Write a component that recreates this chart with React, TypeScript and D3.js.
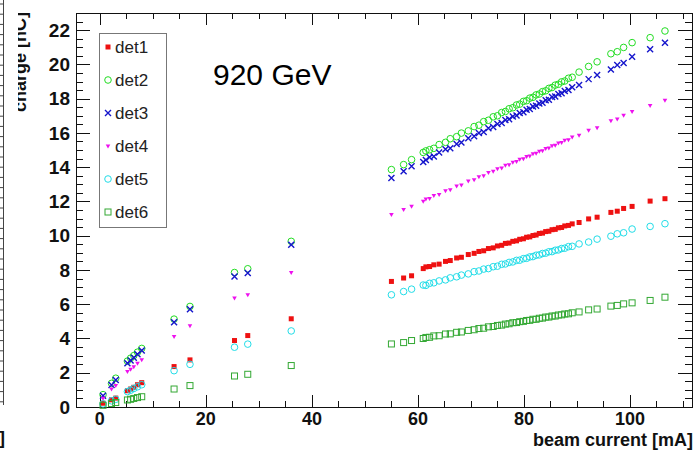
import React, { useRef, useEffect } from "react";
import * as d3 from "d3";

/* beam current [mA] shared by every detector */
const current = [
  0.6, 2.2, 3.0, 5.2, 5.8, 6.4, 7.1, 7.9, 14.0, 17.0, 25.4, 27.9, 36.1,
  55.0, 57.3, 58.8, 61.0, 61.5, 62.2, 63.0, 64.0, 65.2, 66.1, 67.3, 68.2,
  69.5, 70.6, 71.5, 72.4, 73.3, 74.2, 75.0, 75.8, 76.5, 77.2, 77.9, 78.6,
  79.2, 79.9, 80.5, 81.1, 81.7, 82.3, 82.9, 83.5, 84.1, 84.7, 85.3, 85.9,
  86.5, 87.1, 87.7, 88.4, 89.1, 90.4, 92.2, 93.8, 96.4, 97.6, 98.8, 100.4,
  103.8, 106.6,
];

/* charge [nC] per detector */
const det1 = [
  0.22, 0.42, 0.52, 0.95, 1.05, 1.15, 1.3, 1.42, 2.36, 2.75, 3.88, 4.17, 5.15,
  7.33, 7.53, 7.66, 8.08, 8.18, 8.2, 8.3, 8.34, 8.5, 8.55, 8.7, 8.74,
  8.9, 8.97, 9.08, 9.12, 9.25, 9.29, 9.4, 9.44, 9.55, 9.57, 9.67, 9.7,
  9.79, 9.82, 9.91, 9.93, 10.01, 10.04, 10.13, 10.15, 10.24, 10.26, 10.35, 10.37,
  10.46, 10.48, 10.57, 10.6, 10.69, 10.77, 10.98, 11.08, 11.36, 11.43, 11.59, 11.71,
  12.02, 12.16,
];
const det2 = [
  0.72, 1.38, 1.68, 2.68, 2.85, 3.0, 3.2, 3.42, 5.13, 5.87, 7.85, 8.07, 9.67,
  13.86, 14.15, 14.44, 14.86, 14.95, 15.02, 15.1, 15.32, 15.45, 15.66, 15.78, 15.99,
  16.12, 16.37, 16.45, 16.66, 16.74, 16.94, 17.0, 17.19, 17.25, 17.41, 17.47, 17.63,
  17.68, 17.84, 17.88, 18.03, 18.08, 18.22, 18.27, 18.41, 18.46, 18.6, 18.65, 18.79,
  18.84, 18.98, 19.03, 19.19, 19.25, 19.55, 19.88, 20.15, 20.62, 20.74, 20.99, 21.27,
  21.56, 21.95,
];
const det3 = [
  0.65, 1.29, 1.58, 2.55, 2.72, 2.88, 3.08, 3.3, 4.95, 5.71, 7.62, 7.82, 9.47,
  13.37, 13.76, 14.05, 14.3, 14.42, 14.58, 14.62, 14.85, 15.04, 15.1, 15.35, 15.44,
  15.69, 15.8, 15.99, 16.06, 16.27, 16.34, 16.52, 16.58, 16.75, 16.8, 16.96, 17.01,
  17.16, 17.21, 17.35, 17.4, 17.54, 17.58, 17.72, 17.76, 17.9, 17.94, 18.09, 18.12,
  18.27, 18.31, 18.45, 18.5, 18.66, 18.8, 19.14, 19.38, 19.7, 19.96, 20.08, 20.45,
  20.88, 21.27,
];
const det4 = [
  0.5, 1.05, 1.25, 2.07, 2.2, 2.35, 2.55, 2.75, 4.11, 4.74, 6.35, 6.55, 7.85,
  11.23, 11.52, 11.71, 12.0, 12.14, 12.16, 12.34, 12.4, 12.62, 12.68, 12.9, 12.95,
  13.18, 13.26, 13.44, 13.5, 13.68, 13.75, 13.9, 13.95, 14.1, 14.14, 14.28, 14.32,
  14.45, 14.49, 14.62, 14.65, 14.78, 14.81, 14.93, 14.96, 15.09, 15.12, 15.25, 15.28,
  15.41, 15.44, 15.56, 15.6, 15.75, 15.86, 16.15, 16.3, 16.7, 16.8, 17.02, 17.25,
  17.6, 17.9,
];
const det5 = [
  0.18, 0.36, 0.45, 0.9, 0.98, 1.08, 1.18, 1.3, 2.12, 2.49, 3.49, 3.67, 4.44,
  6.55, 6.74, 6.88, 7.12, 7.1, 7.22, 7.25, 7.36, 7.42, 7.54, 7.6, 7.7,
  7.77, 7.9, 7.94, 8.05, 8.08, 8.19, 8.22, 8.33, 8.35, 8.44, 8.47, 8.56,
  8.57, 8.66, 8.68, 8.76, 8.78, 8.86, 8.88, 8.96, 8.98, 9.06, 9.07, 9.15,
  9.17, 9.25, 9.27, 9.36, 9.38, 9.52, 9.63, 9.8, 9.97, 10.11, 10.17, 10.39,
  10.54, 10.7,
];
const det6 = [
  0.1, 0.2, 0.26, 0.41, 0.45, 0.5, 0.55, 0.6, 1.05, 1.25, 1.81, 1.91, 2.42,
  3.68, 3.76, 3.88, 4.0, 4.06, 4.07, 4.15, 4.16, 4.26, 4.27, 4.36, 4.38,
  4.47, 4.51, 4.58, 4.6, 4.68, 4.7, 4.76, 4.78, 4.84, 4.86, 4.92, 4.93,
  4.98, 5.0, 5.05, 5.06, 5.12, 5.12, 5.18, 5.19, 5.25, 5.25, 5.31, 5.31,
  5.37, 5.38, 5.43, 5.44, 5.5, 5.55, 5.67, 5.72, 5.89, 5.93, 6.02, 6.08,
  6.22, 6.41,
];

const detNames = ["det1", "det2", "det3", "det4", "det5", "det6"];
const xTicks = [0, 20, 40, 60, 80, 100];
const yTicks = [0, 2, 4, 6, 8, 10, 12, 14, 16, 18, 20, 22];

type Mark = "fsquare" | "ocircle" | "cross" | "tridown" | "osquare";
const STYLE: { color: string; mark: Mark }[] = [
  { color: "#ee1111", mark: "fsquare" },
  { color: "#22dd22", mark: "ocircle" },
  { color: "#1515cc", mark: "cross" },
  { color: "#ee11ee", mark: "tridown" },
  { color: "#22dde8", mark: "ocircle" },
  { color: "#33a833", mark: "osquare" },
];

function drawMark(g: any, mark: Mark, color: string, cx: number, cy: number) {
  if (mark === "fsquare") {
    g.append("rect").attr("x", cx - 2.5).attr("y", cy - 2.5)
      .attr("width", 5).attr("height", 5).attr("fill", color);
  } else if (mark === "osquare") {
    g.append("rect").attr("x", cx - 3).attr("y", cy - 3)
      .attr("width", 6).attr("height", 6).attr("fill", "none")
      .attr("stroke", color).attr("stroke-width", 1);
  } else if (mark === "ocircle") {
    g.append("circle").attr("cx", cx).attr("cy", cy).attr("r", 3.3)
      .attr("fill", "none").attr("stroke", color).attr("stroke-width", 1);
  } else if (mark === "cross") {
    g.append("path")
      .attr("d", `M${cx - 3},${cy - 3}L${cx + 3},${cy + 3}M${cx - 3},${cy + 3}L${cx + 3},${cy - 3}`)
      .attr("stroke", color).attr("stroke-width", 1.4).attr("fill", "none");
  } else {
    g.append("path")
      .attr("d", `M${cx - 2.3},${cy - 1.6}L${cx + 2.3},${cy - 1.6}L${cx},${cy + 2.4}Z`)
      .attr("fill", color);
  }
}

export default function App() {
  const svgRef = useRef<SVGSVGElement>(null);

  useEffect(() => {
    /* ---- layout ---- */
    const W = 696;
    const H = 455;
    const F = { left: 76, right: 692, top: 13, bottom: 407 };
    const FONT = "'Liberation Sans', Arial, Helvetica, sans-serif";

    /* ---- scales ---- */
    const x = d3.scaleLinear().domain([-4.5, 111.7]).range([F.left, F.right]);
    const y = d3.scaleLinear().domain([0, 23]).range([F.bottom, F.top]);

    const svg = d3.select(svgRef.current)
      .attr("viewBox", `0 0 ${W} ${H}`)
      .style("font-family", FONT);
    svg.selectAll("*").remove();

    svg.append("rect").attr("width", W).attr("height", H).attr("fill", "#fff");

    /* ---- neighbouring pad remnants on the far left ---- */
    svg.append("line").attr("x1", 3.5).attr("x2", 3.5).attr("y1", 0).attr("y2", 405)
      .attr("stroke", "#444").attr("stroke-width", 1);
    svg.append("g").selectAll("line")
      .data(d3.range(4, 405, 10.2))
      .enter().append("line")
      .attr("x1", 0).attr("x2", 3.5)
      .attr("y1", (d) => d).attr("y2", (d) => d)
      .attr("stroke", "#444").attr("stroke-width", 1);
    svg.append("text").attr("x", -1).attr("y", 444)
      .style("font-size", "18px").style("font-weight", "bold").attr("fill", "#111")
      .text("]");

    /* ---- y title, clipped at the pad edge ---- */
    svg.append("clipPath").attr("id", "ytclip")
      .append("rect").attr("x", 18).attr("y", 0).attr("width", 40).attr("height", H);
    svg.append("g").attr("clip-path", "url(#ytclip)")
      .append("text")
      .attr("transform", "translate(26,12) rotate(-90)")
      .attr("text-anchor", "end")
      .style("font-size", "18px").style("font-weight", "bold").attr("fill", "#111")
      .text("charge [nC]");

    /* ---- ticks ---- */
    const xMinor = d3.range(0, 111, 5).filter((v) => v % 20 !== 0);
    const yMinor = d3.range(0, 23.01, 0.5).filter((v) => v % 2 !== 0);
    const tk = svg.append("g").attr("stroke", "#111").attr("stroke-width", 1);
    const xt = (vals: number[], len: number) => {
      vals.forEach((v) => {
        const px = Math.round(x(v)) + 0.5;
        tk.append("line").attr("x1", px).attr("x2", px).attr("y1", F.bottom).attr("y2", F.bottom - len);
        tk.append("line").attr("x1", px).attr("x2", px).attr("y1", F.top).attr("y2", F.top + len);
      });
    };
    const yt = (vals: number[], len: number) => {
      vals.forEach((v) => {
        const py = Math.round(y(v)) + 0.5;
        tk.append("line").attr("x1", F.left).attr("x2", F.left + len).attr("y1", py).attr("y2", py);
        tk.append("line").attr("x1", F.right).attr("x2", F.right - len).attr("y1", py).attr("y2", py);
      });
    };
    xt(xTicks, 12);
    xt(xMinor, 6);
    yt(yTicks, 14);
    yt(yMinor, 7);

    /* ---- frame ---- */
    svg.append("rect")
      .attr("x", F.left + 0.5).attr("y", F.top + 0.5)
      .attr("width", F.right - F.left).attr("height", F.bottom - F.top)
      .attr("fill", "none").attr("stroke", "#111").attr("stroke-width", 1);

    /* ---- tick labels ---- */
    svg.append("g").selectAll("text").data(xTicks).enter().append("text")
      .attr("x", (d) => x(d)).attr("y", 425)
      .attr("text-anchor", "middle")
      .style("font-size", "18px").style("font-weight", "bold").attr("fill", "#111")
      .text((d) => d);
    svg.append("g").selectAll("text").data(yTicks).enter().append("text")
      .attr("x", 70).attr("y", (d) => y(d)).attr("dy", "0.35em")
      .attr("text-anchor", "end")
      .style("font-size", "19px").style("font-weight", "bold").attr("fill", "#111")
      .text((d) => d);

    /* ---- x title ---- */
    svg.append("text").attr("x", 693).attr("y", 446).attr("text-anchor", "end")
      .style("font-size", "18px").style("font-weight", "bold").attr("fill", "#111")
      .text("beam current [mA]");

    /* ---- points ---- */
    const series = [det1, det2, det3, det4, det5, det6];
    series.forEach((vals, i) => {
      const g = svg.append("g");
      vals.forEach((v, j) => drawMark(g, STYLE[i].mark, STYLE[i].color, x(current[j]), y(v)));
    });

    /* ---- legend ---- */
    svg.append("rect").attr("x", 99.5).attr("y", 33.5).attr("width", 67).attr("height", 194)
      .attr("fill", "#fff").attr("stroke", "#777").attr("stroke-width", 1);
    detNames.forEach((name, i) => {
      const cy = 47 + i * 33;
      const g = svg.append("g");
      drawMark(g, STYLE[i].mark, STYLE[i].color, 108, cy);
      g.append("text").attr("x", 115).attr("y", cy).attr("dy", "0.36em")
        .style("font-size", "17px").attr("fill", "#222").text(name);
    });

    /* ---- energy label ---- */
    svg.append("text").attr("x", 213).attr("y", 85)
      .style("font-size", "30px").attr("fill", "#000").text("920 GeV");
  }, []);

  return (
    <svg
      ref={svgRef}
      width={696}
      height={455}
      style={{ position: "absolute", left: 0, top: 0, background: "#fff" }}
    />
  );
}
